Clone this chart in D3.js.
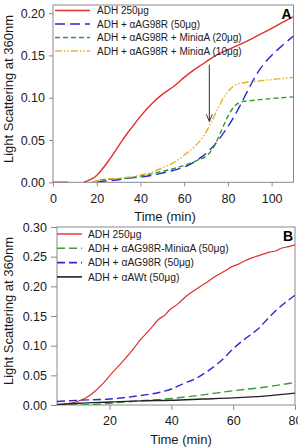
<!DOCTYPE html>
<html><head><meta charset="utf-8">
<script src="https://cdn.jsdelivr.net/npm/d3@7"></script>
<style>
html,body{margin:0;padding:0;background:#fff;}
svg text{font-family:"Liberation Sans",Arial,sans-serif;}
</style>
</head><body>
<svg id="chart" width="298" height="448"></svg>
<script>
// ---------- Panel A data (time in min, light scattering) ----------
const aTicksX = [0, 20, 40, 60, 80, 100];
const aTicksY = [0.00, 0.05, 0.10, 0.15, 0.20];
const aRed = [[0,0],[4,0],[7,0],[10,null],[14,0],[16,0.002],[19,0.006],[22,0.014],[25,0.024],[28,0.035],[31,0.047],[34,0.058],[37,0.068],[40,0.078],[43,0.087],[46,0.095],[50,0.104],[55,0.113],[60,0.124],[64,0.132],[68,0.139],[72,0.146],[76,0.152],[82,0.159],[88,0.166],[94,0.174],[100,0.182],[105,0.189],[110,0.196]];
const aBlue = [[20,0],[25,0.002],[30,0.003],[35,0.005],[40,0.006],[45,0.008],[50,0.011],[55,0.014],[60,0.018],[64,0.023],[68,0.030],[72,0.039],[76,0.051],[79,0.062],[82,0.074],[85,0.088],[88,0.103],[91,0.118],[95,0.135],[100,0.150],[105,0.162],[110,0.173]];
const aGreen = [[18,0],[22,0.003],[30,0.004],[37,0.006],[45,0.010],[50,0.013],[55,0.016],[60,0.020],[66,0.026],[71,0.033],[74,0.044],[77,0.061],[80,0.078],[83,0.090],[86,0.095],[92,0.097],[100,0.099],[110,0.101]];
const aYellow = [[18,0],[22,0.003],[30,0.005],[37,0.007],[45,0.012],[50,0.017],[55,0.023],[60,0.032],[65,0.043],[69,0.055],[72,0.069],[75,0.085],[78,0.100],[81,0.110],[84,0.116],[88,0.118],[95,0.120],[102,0.122],[110,0.124]];
const aLabels = ["ADH 250\u03bcg","ADH + \u03b1AG98R (50\u03bcg)","ADH + \u03b1AG98R + Mini\u03b1A (20\u03bcg)","ADH + \u03b1AG98R + Mini\u03b1A (10\u03bcg)"];
const aArrow = {t:71.5, from:0.139, to:0.072};

// ---------- Panel B data ----------
const bTicksX = [20, 40, 60, 80];
const bTicksY = [0.00, 0.05, 0.10, 0.15, 0.20, 0.25, 0.30];
const bRed = [[3,0.000],[6,0.002],[9,0.005],[12,0.011],[15,0.022],[18,0.037],[21,0.055],[24,0.072],[27,0.090],[30,0.110],[33,0.127],[36,0.145],[38,0.152],[39,0.158],[42,0.170],[45,0.184],[48,0.195],[51,0.205],[54,0.216],[57,0.225],[60,0.234],[62,0.238],[63,0.241],[66,0.248],[69,0.253],[72,0.258],[74,0.260],[75,0.263],[78,0.267],[80,0.270]];
const bGreen = [[3,0.000],[10,0.000],[15,0.001],[20,0.003],[30,0.007],[40,0.011],[50,0.017],[60,0.024],[70,0.030],[80,0.038]];
const bBlue = [[3,0.006],[10,0.008],[20,0.010],[30,0.016],[36,0.021],[40,0.027],[44,0.036],[48,0.045],[52,0.058],[56,0.074],[60,0.095],[64,0.112],[68,0.128],[72,0.150],[76,0.169],[80,0.185]];
const bBlack = [[3,0.001],[10,0.003],[20,0.005],[30,0.007],[40,0.008],[50,0.010],[60,0.012],[70,0.015],[80,0.020]];
const bLabels = ["ADH 250\u03bcg","ADH + \u03b1AG98R-Mini\u03b1A (50\u03bcg)","ADH + \u03b1AG98R (50\u03bcg)","ADH + \u03b1AWt (50\u03bcg)"];

const yTitle = "Light Scattering at 360nm";
const xTitle = "Time (min)";

const svg = d3.select("#chart");
const axisCol = "#8a8a8a", textCol = "#1a1a1a";

function panel(cfg){
  const g = svg.append("g");
  const x = d3.scaleLinear().domain(cfg.xDomain).range([cfg.left, cfg.right]);
  const y = d3.scaleLinear().domain(cfg.yDomain).range([cfg.bottom, cfg.top]);
  // axes
  const ax = g.append("g").attr("transform",`translate(0,${cfg.bottom})`)
    .call(d3.axisBottom(x).tickValues(cfg.xTicks).tickSize(cfg.tickX).tickPadding(cfg.padX).tickFormat(d3.format("d")));
  const ay = g.append("g").attr("transform",`translate(${cfg.left},0)`)
    .call(d3.axisLeft(y).tickValues(cfg.yTicks).tickSize(cfg.tickY).tickPadding(4).tickFormat(d3.format(".2f")));
  [ax,ay].forEach(a=>{
    a.select(".domain").remove();
    a.selectAll("line").attr("stroke",axisCol);
    a.selectAll("text").attr("fill",textCol).style("font-size","12.5px");
  });
  // frame
  g.append("rect").attr("x",cfg.left).attr("y",cfg.top).attr("width",cfg.right-cfg.left).attr("height",cfg.bottom-cfg.top)
    .attr("fill","none").attr("stroke",axisCol).attr("stroke-width",1);
  const clipId = "clip"+cfg.name;
  svg.append("clipPath").attr("id",clipId).append("rect")
    .attr("x",cfg.left).attr("y",cfg.top-2).attr("width",cfg.right-cfg.left).attr("height",cfg.bottom-cfg.top+2);
  const line = d3.line().defined(d=>d[1]!==null).x(d=>x(d[0])).y(d=>y(d[1])).curve(d3.curveMonotoneX);
  const lg = g.append("g").attr("clip-path",`url(#${clipId})`);
  cfg.series.forEach(s=>{
    lg.append("path").datum(s.data).attr("d",line).attr("fill","none")
      .attr("stroke",s.color).attr("stroke-width",s.w).attr("stroke-dasharray",s.dash||null);
  });
  // legend
  cfg.series.forEach((s,i)=>{
    const ly = cfg.legY + i*cfg.legStep;
    g.append("line").attr("x1",cfg.legX1).attr("x2",cfg.legX2).attr("y1",ly).attr("y2",ly)
      .attr("stroke",s.color).attr("stroke-width",s.w+0.2).attr("stroke-dasharray",s.dash||null);
    g.append("text").attr("x",cfg.legTx).attr("y",ly).attr("dy","0.35em").attr("fill",textCol)
      .style("font-size",cfg.legFont+"px").text(s.label);
  });
  // panel letter
  g.append("text").attr("x",cfg.right-2).attr("y",cfg.top+13.5).attr("text-anchor","end")
    .attr("font-weight","bold").attr("fill","#000").style("font-size","14px").text(cfg.name);
  // titles
  g.append("text").attr("x",cfg.xTitleX).attr("y",cfg.xTitleY).attr("text-anchor","middle").attr("dy","0.35em")
    .attr("fill",textCol).style("font-size","13px").text(xTitle);
  g.append("text").attr("transform",`translate(8,${cfg.yTitleY}) rotate(-90)`).attr("text-anchor","middle").attr("dy","0.35em")
    .attr("fill",textCol).style("font-size","13px").text(yTitle);
  return {g,x,y};
}

const A = panel({
  name:"A", left:53, right:293.5, top:5, bottom:182.3,
  xDomain:[0,110], yDomain:[0,0.2096], xTicks:aTicksX, yTicks:aTicksY,
  tickX:4, padX:7.5, tickY:4,
  legX1:55, legX2:90, legTx:97, legY:10.5, legStep:13.5, legFont:10,
  xTitleX:165, xTitleY:216, yTitleY:89,
  series:[
    {data:aRed, color:"#e0302e", w:1.4, label:aLabels[0]},
    {data:aBlue, color:"#2a2ad0", w:1.4, dash:"10,5", label:aLabels[1]},
    {data:aGreen, color:"#2f9a35", w:1.4, dash:"5,3", label:aLabels[2]},
    {data:aYellow, color:"#ecb02a", w:1.4, dash:"7,2,1.5,2,1.5,2", label:aLabels[3]}
  ]
});
// arrow annotation
A.g.append("line").attr("x1",A.x(aArrow.t)).attr("x2",A.x(aArrow.t)).attr("y1",A.y(aArrow.from)).attr("y2",A.y(aArrow.to))
  .attr("stroke","#333").attr("stroke-width",1);
A.g.append("path").attr("d",`M${A.x(aArrow.t)-3},${A.y(aArrow.to)-7} L${A.x(aArrow.t)},${A.y(aArrow.to)} L${A.x(aArrow.t)+3},${A.y(aArrow.to)-7}`)
  .attr("fill","none").attr("stroke","#333").attr("stroke-width",1);

const B = panel({
  name:"B", left:57, right:295, top:227, bottom:405,
  xDomain:[3,80], yDomain:[0,0.30], xTicks:bTicksX, yTicks:bTicksY,
  tickX:5, padX:6.5, tickY:6,
  legX1:57, legX2:82, legTx:88, legY:234, legStep:14.3, legFont:10.3,
  xTitleX:181, xTitleY:439, yTitleY:311,
  series:[
    {data:bRed, color:"#e0302e", w:1.2, label:bLabels[0]},
    {data:bGreen, color:"#3a9a3e", w:1.4, dash:"8,4", label:bLabels[1]},
    {data:bBlue, color:"#2a2ad0", w:1.4, dash:"8,4", label:bLabels[2]},
    {data:bBlack, color:"#222", w:1.4, label:bLabels[3]}
  ]
});
</script>
</body></html>
